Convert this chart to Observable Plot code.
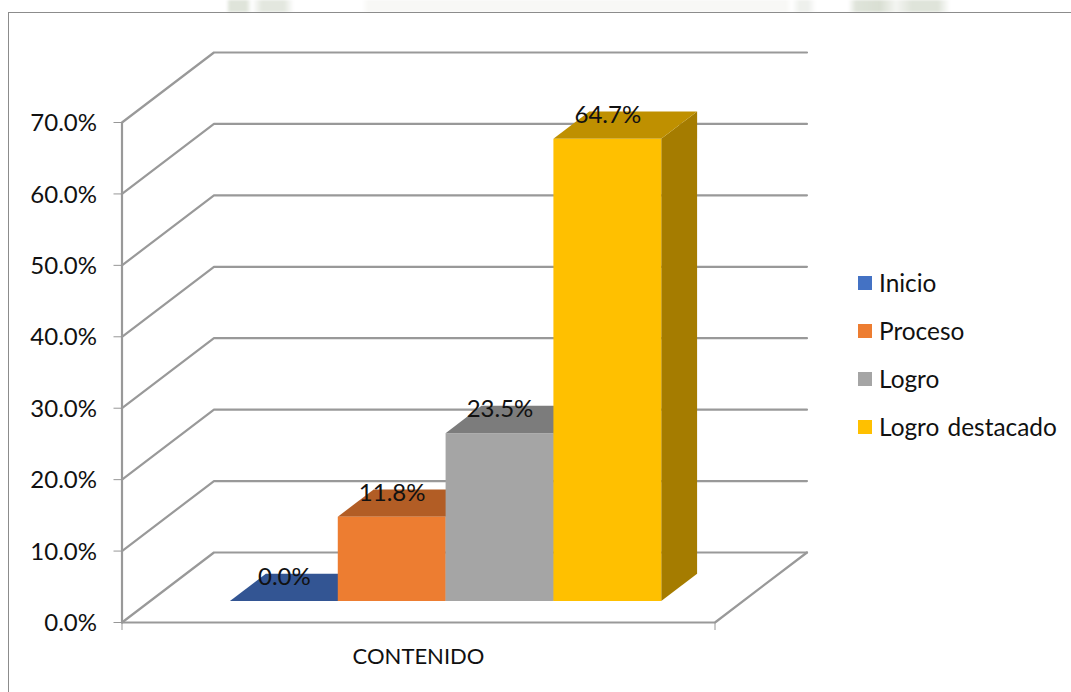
<!DOCTYPE html>
<html>
<head>
<meta charset="utf-8">
<script src="https://cdn.jsdelivr.net/npm/d3@7"></script>
<script src="https://cdn.jsdelivr.net/npm/@observablehq/plot@0.6"></script>
<style>
html,body{margin:0;padding:0;background:#fff;overflow:hidden}
#wrap{position:relative;width:1071px;height:692px;overflow:hidden;font-family:Lato,sans-serif}
#frame{position:absolute;left:8px;top:12px;width:1100px;height:720px;border:1px solid #8c8c8c;pointer-events:none}
#legend{position:absolute;left:858px;top:258.5px;font-size:24.4px;color:#111;word-spacing:2px}
#legend div{height:48px;line-height:48px;white-space:nowrap;display:flex;align-items:center}
#legend i{display:inline-block;width:14px;height:14px;margin-right:7px}
#mark{position:absolute;left:0;top:0;width:1071px;height:12px;filter:blur(1.2px);
background:linear-gradient(90deg,#fff 226px,#dfe4da 230px,#dfe4da 246px,#fff 252px,#e3e7df 262px,#e3e7df 284px,#fff 294px,#fff 362px,#f8f8f6 368px,#f8f8f6 786px,#fff 792px,#eef0ec 800px,#eef0ec 808px,#fff 816px,#fff 848px,#dfe4da 856px,#d9dfd3 880px,#f4f5f2 896px,#dfe4da 912px,#dfe4da 938px,#fff 950px)}
svg{display:block}
</style>
</head>
<body>
<div id="wrap"><div id="mark"></div><div id="chart" style="position:relative"></div><div id="frame"></div><div id="legend"></div></div>
<script>
const categories = ["Inicio", "Proceso", "Logro", "Logro destacado"];
const values = [0.0, 11.8, 23.5, 64.7];
const labels = ["0.0%", "11.8%", "23.5%", "64.7%"];
const frontColors = ["#4472C4", "#ED7D31", "#A5A5A5", "#FFC000"];
const topColors = ["#335593", "#B25D25", "#7C7C7C", "#BF9000"];
const sideColors = ["#2A4A80", "#9A4F1E", "#6B6B6B", "#A57C00"];
const yTicks = [0, 10, 20, 30, 40, 50, 60, 70];
const xAxisLabel = "CONTENIDO";

// Oblique projection: depth 1 = the full floor depth, expressed in axis units
const floorWidth = 5.5, slotStart = 0.75;
const depthX = 0.853, depthY = 9.8;
const barDepthFront = 0.3, barDepthBack = 0.69;
const px = (c, d) => c + d * depthX;
const py = (v, d) => v + d * depthY;

const grid = [];
yTicks.forEach(v => {
  [[0, 0], [0, 1], [floorWidth, 1]].forEach(([c, d]) => grid.push({v, x: px(c, d), y: py(v, d)}));
});
const floorEdge = [[0, 0], [floorWidth, 0], [floorWidth, 1]].map(([c, d]) => ({x: px(c, d), y: py(0, d)}));

const bars = values.map((v, i) => ({i, v, c0: slotStart + i, c1: slotStart + i + 1}));
const tops = bars.flatMap(b => [barDepthFront, barDepthBack].map(d => ({
  i: b.i, x1: px(b.c0, d), x2: px(b.c1, d), y1: py(b.v, d), y2: py(b.v, d)
})));
const sides = bars.flatMap(b => [barDepthFront, barDepthBack].map(d => ({
  i: b.i, x1: px(b.c1, d), x2: px(b.c1, d), y1: py(0, d), y2: py(b.v, d)
})));

const barMarks = bars.flatMap(b => [
  Plot.area(sides.filter(s => s.i === b.i), {x1: "x1", x2: "x2", y1: "y1", y2: "y2", fill: sideColors[b.i]}),
  Plot.area(tops.filter(s => s.i === b.i), {x1: "x1", x2: "x2", y1: "y1", y2: "y2", fill: topColors[b.i]}),
  Plot.rect([b], {
    x1: d => px(d.c0, barDepthFront), x2: d => px(d.c1, barDepthFront),
    y1: () => py(0, barDepthFront), y2: d => py(d.v, barDepthFront),
    fill: frontColors[b.i]
  })
]);

const chart = Plot.plot({
  width: 1071, height: 692,
  marginLeft: 121.5, marginRight: 356.5, marginTop: 122, marginBottom: 70,
  style: {background: "transparent", fontFamily: "Lato, sans-serif"},
  x: {domain: [0, floorWidth], axis: null},
  y: {domain: [0, 70], axis: null},
  marks: [
    Plot.line(grid, {x: "x", y: "y", z: "v", stroke: "#999999", strokeWidth: 2.2}),
    Plot.line(floorEdge, {x: "x", y: "y", stroke: "#999999", strokeWidth: 2.2}),
    Plot.ruleX([0], {y1: 0, y2: 70, stroke: "#999999", strokeWidth: 2.2}),
    Plot.axisY({
      ticks: yTicks, tickSize: 8, tickFormat: () => "", label: null, stroke: "#979797"
    }),
    Plot.axisY({
      ticks: yTicks, tickSize: 0, tickPadding: 25, label: null, dy: 1,
      tickFormat: d => d.toFixed(1) + "%", fontSize: 24, color: "#111"
    }),
    Plot.axisX({
      ticks: [0, floorWidth], tickSize: 8, tickFormat: () => "", label: null, stroke: "#979797"
    }),
    Plot.text([xAxisLabel], {
      x: () => floorWidth / 2, y: () => 0, text: d => d, dy: 34.5, fontSize: 22, fill: "#111"
    }),
    ...barMarks,
    Plot.text(bars, {
      x: d => px(d.c0 + 0.5, barDepthFront), y: d => py(d.v, barDepthFront),
      text: d => labels[d.i], dy: -24, fontSize: 24, fill: "#111"
    })
  ]
});
document.getElementById("chart").append(chart);

const legend = document.getElementById("legend");
categories.forEach((c, i) => {
  const row = document.createElement("div");
  const sw = document.createElement("i");
  sw.style.background = frontColors[i];
  row.append(sw, document.createTextNode(c));
  legend.append(row);
});
</script>
</body>
</html>
